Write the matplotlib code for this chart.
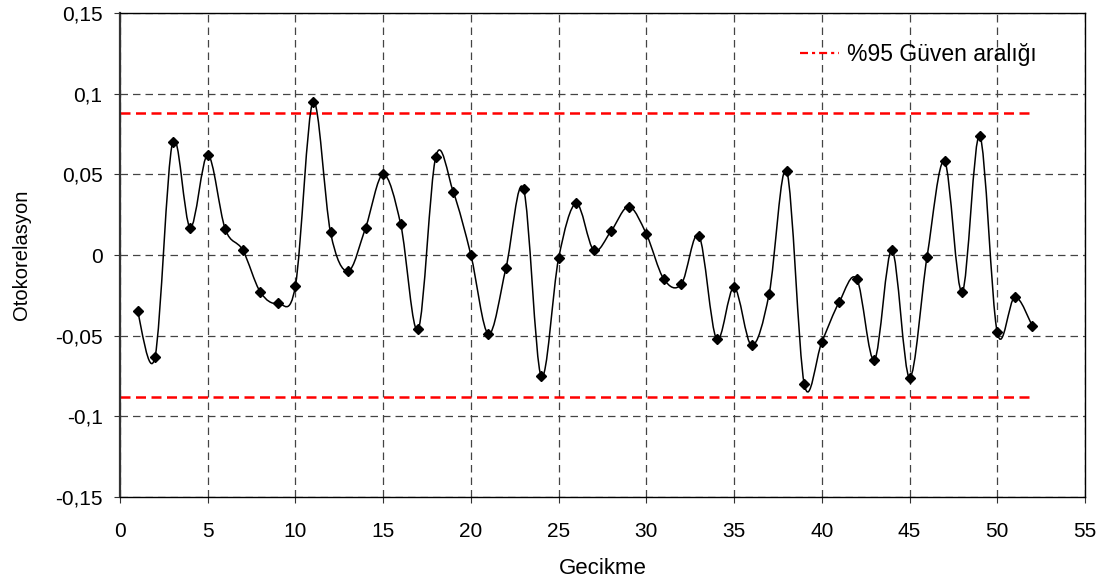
import matplotlib
matplotlib.use('Agg')
import matplotlib.pyplot as plt
import numpy as np
from matplotlib.path import Path
from matplotlib.patches import PathPatch
from matplotlib.lines import Line2D

plt.rcParams['font.family'] = ['Liberation Sans', 'DejaVu Sans']

lags = list(range(1, 53))
acf = [-0.035, -0.063, 0.070, 0.017, 0.062, 0.016, 0.003, -0.023, -0.030, -0.019,
       0.095, 0.014, -0.010, 0.017, 0.050, 0.019, -0.046, 0.061, 0.039, 0.000,
       -0.049, -0.008, 0.041, -0.075, -0.002, 0.032, 0.003, 0.015, 0.030, 0.013,
       -0.015, -0.018, 0.012, -0.052, -0.020, -0.056, -0.024, 0.052, -0.080, -0.054,
       -0.029, -0.015, -0.065, 0.003, -0.076, -0.001, 0.058, -0.023, 0.074, -0.048,
       -0.026, -0.044]
conf = 0.088
conf_span = [0, 52]
yticks = [-0.15, -0.1, -0.05, 0, 0.05, 0.1, 0.15]
ytick_labels = ['-0,15', '-0,1', '-0,05', '0', '0,05', '0,1', '0,15']
xticks = list(range(0, 56, 5))


def smooth_path(x, y):
    # Excel-style smoothed line: cubic Bezier segments (Catmull-Rom tangents)
    x = np.asarray(x, float)
    y = np.asarray(y, float)
    px = np.concatenate([[x[0]], x, [x[-1]]])
    py = np.concatenate([[y[0]], y, [y[-1]]])
    verts = [(x[0], y[0])]
    codes = [Path.MOVETO]
    for i in range(len(x) - 1):
        c1 = (x[i] + (px[i + 2] - px[i]) / 6, y[i] + (py[i + 2] - py[i]) / 6)
        c2 = (x[i + 1] - (px[i + 3] - px[i + 1]) / 6, y[i + 1] - (py[i + 3] - py[i + 1]) / 6)
        verts += [c1, c2, (x[i + 1], y[i + 1])]
        codes += [Path.CURVE4] * 3
    return Path(verts, codes)


fig = plt.figure(figsize=(11.12, 5.81), dpi=100)
ax = fig.add_axes([0.1079, 0.1446, 0.8678, 0.833])

ax.grid(True, color='#444444', linestyle=(0, (6, 4)), linewidth=0.9)
ax.set_axisbelow(True)

for c in (conf, -conf):
    ax.plot(conf_span, [c, c], color='#ff0000', linestyle=(0, (4, 2.2)), lw=1.8, zorder=2)

ax.add_patch(PathPatch(smooth_path(lags, acf), facecolor='none', edgecolor='black', lw=1.1, zorder=3))
ax.plot(lags, acf, linestyle='none', marker='D', color='black', markersize=5.5, zorder=4)

ax.set_xlim(0, 55)
ax.set_ylim(-0.15, 0.15)
ax.set_xticks(xticks)
ax.set_yticks(yticks)
ax.set_yticklabels(ytick_labels)
ax.tick_params(axis='both', direction='out', length=4.5, labelsize=15, color='#333333')
ax.tick_params(axis='x', pad=13.5)
ax.tick_params(axis='y', pad=8)
for s in ax.spines.values():
    s.set_color('black')
    s.set_linewidth(1.0)
ax.spines['left'].set_color('#333333')
ax.spines['left'].set_linewidth(1.6)

ax.set_xlabel('Gecikme', fontsize=16, labelpad=12)
ax.set_ylabel('Otokorelasyon', fontsize=14.5, labelpad=17)

handle = Line2D([0], [0], color='#ff0000', linestyle=(0, (3.6, 1.8, 1.4, 1.8)), lw=1.6)
ax.legend([handle], ['%95 Güven aralığı'], loc='center left', bbox_to_anchor=(0.705, 0.915),
          frameon=False, fontsize=16.5, borderpad=0, borderaxespad=0,
          handlelength=1.7, handletextpad=0.35)

fig.savefig('out.png', dpi=100)
